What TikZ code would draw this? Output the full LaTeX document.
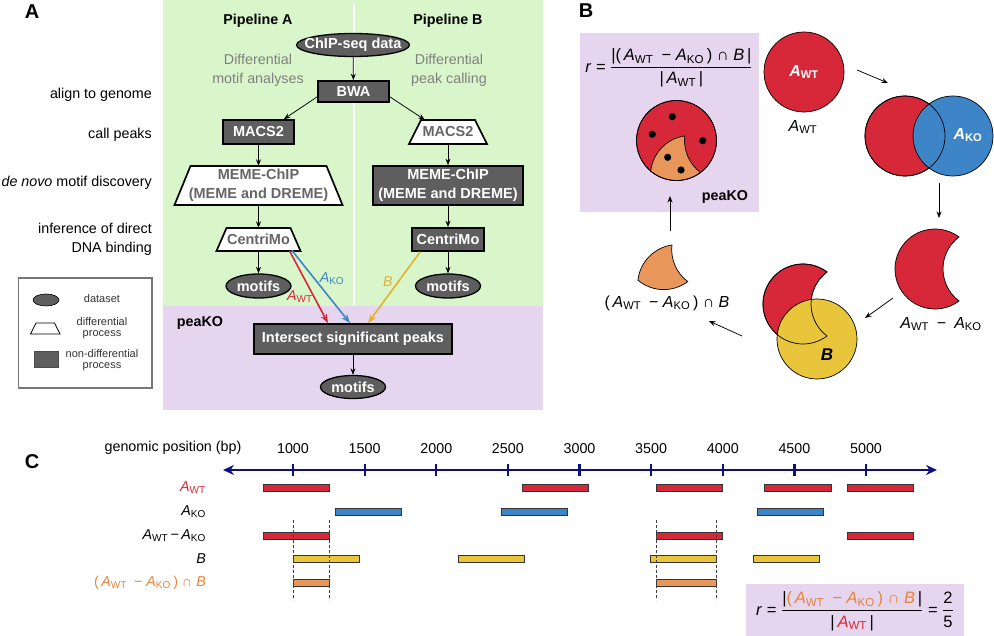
\documentclass[tikz,border=0pt]{standalone}
\usepackage{amsmath}
\usepackage{fontspec}
\setmainfont{Liberation Sans}
\usetikzlibrary{arrows.meta,shapes.geometric}
\definecolor{gbg}{HTML}{D8F6C9}
\definecolor{pbg}{HTML}{E5D5EE}
\definecolor{dbox}{HTML}{5E5E5E}
\definecolor{dtext}{HTML}{666666}
\definecolor{gtext}{HTML}{808080}
\definecolor{cred}{HTML}{D62839}
\definecolor{cblue}{HTML}{3D85C6}
\definecolor{cyel}{HTML}{E8C53A}
\definecolor{cgold}{HTML}{E2B22E}
\definecolor{corg}{HTML}{E8965A}
\definecolor{otext}{HTML}{E8833A}
\definecolor{navy}{HTML}{0F0F80}
\definecolor{lgray}{HTML}{777777}
\newcommand{\fs}[2]{\fontsize{#1}{#2}\selectfont}
\newcommand{\AWT}{\textit{A}\textsubscript{WT}}
\newcommand{\AKO}{\textit{A}\textsubscript{KO}}
\newcommand{\mns}{\enspace−\;}
% crescent A_WT - A_KO, WT centre (#1,#2), radius 40
\newcommand{\crescent}[3]{\path[#3] (#1+24,#2-32) arc[start angle=53.13,end angle=306.87,radius=40pt] arc[start angle=233.13,end angle=126.87,radius=40pt] -- cycle;}
% piece (A_WT - A_KO) cap B, WT centre (#1,#2)
\newcommand{\opiece}[3]{\path[#3] (#1-25.76,#2+30.60) arc[start angle=173.69,end angle=98.24,radius=40pt] arc[start angle=173.41,end angle=233.13,radius=40pt] arc[start angle=-53.13,end angle=-130.09,radius=40pt] -- cycle;}
% differential (trapezoid) node: name, cx, cy, half top, half bottom, half height, text
\newcommand{\diffnode}[7]{%
  \path[diffshape] (#2-#4,#3-#6) -- (#2+#4,#3-#6) -- (#2+#5,#3+#6) -- (#2-#5,#3+#6) -- cycle;
  \node[difftext, minimum width={2*#5pt}, minimum height={2*#6pt}] (#1) at (#2,#3) {#7};}
\newcommand{\cbar}[4]{%
  \fill[black!25] (#1+1,#3-2.3) rectangle (#2+1,#3+4.3);
  \path[fill=#4, draw=black!80, line width=0.6pt] (#1,#3-3.4) rectangle (#2,#3+3.4);}
\begin{document}
\begin{tikzpicture}[x=1pt,y=-1pt,
  txt/.style={font=\fs{14.3}{17}, inner sep=0pt},
  plabel/.style={font=\bfseries\fs{20}{22}, inner sep=0pt},
  dataset/.style={ellipse, draw=black, line width=1.3pt, fill=dbox, text=white, font=\bfseries\fs{14.5}{17}, inner xsep=-12pt, inner ysep=-4pt},
  ndbox/.style={rectangle, draw=black, line width=1.7pt, fill=dbox, text=white, font=\bfseries\fs{14.5}{19}, inner sep=0pt, align=center},
  difftext/.style={rectangle, text=dtext, font=\bfseries\fs{14.5}{19}, inner sep=0pt, align=center},
  diffshape/.style={draw=black, line width=1.7pt, fill=white},
  arr/.style={-{Stealth[length=6.5pt,width=5pt]}, line width=0.75pt},
  carr/.style={-{Stealth[length=9pt,width=6.5pt]}, line width=1.6pt},
  lgtext/.style={font=\fs{11}{11}, text=black!80, inner sep=0pt, align=center},
  btxt/.style={font=\fs{16}{18}, inner sep=0pt},
  venn/.style={draw=black, line width=0.7pt}
]
\useasboundingbox (0,0) rectangle (994,636);

% ================= Panel A =================
\fill[gbg] (163,0) rectangle (543,306);
\fill[pbg] (163,306) rectangle (543,410);
\draw[white, line width=2.8pt] (354,4) -- (354,306);
\node[plabel] (labA) at (32,12) {A};
\node[txt, font=\bfseries\fs{14.3}{17}] (pa) at (258,21) {Pipeline A};
\node[txt, font=\bfseries\fs{14.3}{17}] (pb) at (448,21) {Pipeline B};
\node[txt, text=gtext, align=center, font=\fs{14.3}{19}] (dma) at (258,70) {Differential\\motif analyses};
\node[txt, text=gtext, align=center, font=\fs{14.3}{19}] (dpc) at (449,70) {Differential\\peak calling};

\node[txt, anchor=east] (s1) at (152,95) {align to genome};
\node[txt, anchor=east] (s2) at (152,135) {call peaks};
\node[txt, anchor=east] (s3) at (152,183) {\textit{de novo} motif discovery};
\node[txt, anchor=east, align=right, font=\fs{14.3}{19}] (s4) at (152,239) {inference of direct\\DNA binding};

\node[dataset, minimum width=113pt, minimum height=23pt] (chip) at (353,45) {ChIP-seq data};
\node[ndbox, minimum width=71pt, minimum height=21pt] (bwa) at (353.5,91.5) {BWA};
\node[ndbox, minimum width=71pt, minimum height=24pt] (macsA) at (258.5,132) {MACS2};
\diffnode{macsB}{448}{132}{27}{39}{12}{MACS2}
\diffnode{memeA}{258.5}{185.5}{68}{84}{19.5}{MEME-ChIP\\(MEME and DREME)}
\node[ndbox, minimum width=150pt, minimum height=39pt] (memeB) at (448,185.5) {MEME-ChIP\\(MEME and DREME)};
\diffnode{centA}{258.5}{239.5}{32}{42}{11.5}{CentriMo}
\node[ndbox, minimum width=72pt, minimum height=23pt] (centB) at (448,239.5) {CentriMo};
\node[dataset, minimum width=65pt, minimum height=24pt] (motA) at (258.5,286) {motifs};
\node[dataset, minimum width=65pt, minimum height=24pt] (motB) at (448,286) {motifs};
\node[ndbox, minimum width=198pt, minimum height=30pt] (inter) at (353,339) {Intersect significant peaks};
\node[dataset, minimum width=65pt, minimum height=23pt] (motC) at (353,387) {motifs};
\node[txt, font=\bfseries\fs{14.3}{17}] (pk) at (200,323) {peaKO};

\draw[arr] (chip) -- (bwa);
\draw[arr] ([yshift=6pt]bwa.south west) -- ([xshift=-11pt]macsA.north east);
\draw[arr] ([yshift=6pt]bwa.south east) -- ([xshift=16pt]macsB.north west);
\draw[arr] (macsA) -- (memeA);
\draw[arr] (macsB) -- (memeB);
\draw[arr] (memeA) -- (centA);
\draw[arr] (memeB) -- (centB);
\draw[arr] (centA) -- (motA);
\draw[arr] (centB) -- (motB);
\draw[arr] (inter) -- (motC);

\draw[carr, cred] ([xshift=-11pt]centA.south east) -- ([xshift=-25pt]inter.north);
\draw[carr, cblue] ([xshift=-9pt,yshift=1pt]centA.south east) -- ([xshift=-3pt]inter.north);
\draw[carr, cgold] ([xshift=9pt]centB.south west) -- ([xshift=15pt]inter.north);
\node[txt, text=cblue] (lko) at (332,279) {\AKO};
\node[txt, text=cred] (lwt) at (300,297) {\AWT};
\node[txt, text=cgold] (lb) at (388,282) {\textit{B}};

% legend
\draw[lgray, line width=1.6pt] (18.5,278) rectangle (152,388);
\node[ellipse, fill=dbox, draw=black, line width=0.6pt, minimum width=26pt, minimum height=12pt, inner sep=0pt] (legE) at (46,300) {};
\node[lgtext] (legEt) at (102,299) {dataset};
\path[draw=black, line width=0.7pt, fill=white] (36,323) -- (54.5,323) -- (60,334) -- (30.5,334) -- cycle;
\node[lgtext] (legTt) at (102,328) {differential\\process};
\path[fill=dbox, draw=black!70, line width=0.6pt] (34,351) rectangle (58,367);
\node[lgtext] (legRt) at (102,360) {non-differential\\process};

% ================= Panel B =================
\node[plabel] (labB) at (586,11) {B};
\fill[pbg] (580,33) rectangle (759,212);
\node[btxt, font=\fs{16.5}{19}] (formB) at (669,68) {$\text{\textit{r} = }\dfrac{\text{|(\,\AWT\mns\AKO\,) ∩ \textit{B}\,|}}{\text{|\,\AWT\,|}}$};
\node[txt, font=\bfseries\fs{14.3}{17}] (pk2) at (725,197) {peaKO};
% small circle
\fill[cred, venn] (676.5,140.5) circle (40pt);
\opiece{676.5}{140.5}{fill=corg, venn}
\draw[venn] (676.5,140.5) circle (40pt);
\foreach \dx/\dy in {672.3/116.7, 652.3/134.3, 702.7/140.7, 667.7/157.3, 681/170}
  \fill[black] (\dx,\dy) circle (3.6pt);

% step 1
\fill[cred, venn] (804,72) circle (40pt);
\node[txt, text=white, font=\bfseries\fs{16}{18}] (w1) at (804,72) {\AWT};
\node[btxt] (w1l) at (803,127) {\AWT};
\draw[arr] (857,70) -- (888,83);
% step 2
\fill[cred, venn] (905,136) circle (40pt);
\fill[cblue, venn] (953,136) circle (40pt);
\draw[venn] (905,136) circle (40pt);
\node[txt, text=white, font=\bfseries\fs{16}{18}] (k2) at (968,135) {\AKO};
\draw[arr] (939,183) -- (939,218);
% step 3
\crescent{935}{269}{fill=cred, venn}
\node[btxt] (c3l) at (941,324) {\AWT\enspace−\enspace\AKO};
\draw[arr] (893,298) -- (865,318);
% step 4
\crescent{803}{304}{fill=cred, venn}
\fill[cyel, venn] (817,339) circle (40pt);
\crescent{803}{304}{venn}
\node[txt, font=\bfseries\fs{17}{19}] (b4) at (827,355) {\textit{B}};
\draw[arr] (742,336) -- (709,321);
% step 5
\opiece{663.7}{249.6}{fill=corg, venn}
\node[btxt] (o5l) at (667,303) {(\,\AWT\mns\AKO\,) ∩ \textit{B}};
\draw[arr] (670,231) -- (670,196);

% ================= Panel C =================
\node[plabel] (labC) at (32,462) {C};
\node[txt] (gp) at (173,448) {genomic position (bp)};
\draw[navy, line width=2.6pt, {Stealth[length=11pt,width=10pt]}-{Stealth[length=11pt,width=10pt]}] (223,470) -- (937,470);
\foreach \p/\x in {1000/293,1500/364.6,2000/436.3,2500/507.9,3000/579.5,3500/651.1,4000/722.8,4500/794.4,5000/866}{
  \draw[navy, line width=2.2pt] (\x,464) -- (\x,476);
  \node[txt] at (\x,449) {\p};
}
% rows
\cbar{263}{329}{488}{cred}
\cbar{522}{588}{488}{cred}
\cbar{656}{722}{488}{cred}
\cbar{764}{831}{488}{cred}
\cbar{847}{913}{488}{cred}
\cbar{335}{401}{512}{cblue}
\cbar{501}{567}{512}{cblue}
\cbar{757}{823}{512}{cblue}
\cbar{263}{329}{536}{cred}
\cbar{656}{722}{536}{cred}
\cbar{847}{913}{536}{cred}
\cbar{293}{359}{559}{cyel}
\cbar{458}{524}{559}{cyel}
\cbar{650}{716}{559}{cyel}
\cbar{753}{819}{559}{cyel}
\cbar{293}{329}{583}{corg}
\cbar{656}{716}{583}{corg}
\foreach \x in {293,329,656,716}
  \draw[black!75, line width=0.7pt, dash pattern=on 3pt off 2pt] (\x,520) -- (\x,600);
\node[txt, anchor=east, text=cred] (r1) at (206,488) {\AWT};
\node[txt, anchor=east] (r2) at (206,512) {\AKO};
\node[txt, anchor=east] (r3) at (206,536) {\AWT\,−\,\AKO};
\node[txt, anchor=east] (r4) at (206,559) {\textit{B}};
\node[txt, anchor=east, text=otext] (r5) at (206,583) {(\,\AWT\mns\AKO\,) ∩ \textit{B}};
\fill[pbg] (746,584) rectangle (964,636);
\node[btxt, font=\fs{16.5}{19}] (formC) at (855,611) {$\text{\textit{r} = }\dfrac{\text{|\textcolor{otext}{(\,\AWT\mns\AKO\,) ∩ \textit{B}}\,|}}{\text{|\,\textcolor{cred}{\AWT}\,|}}\text{ = }\dfrac{\text{2}}{\text{5}}$};
\end{tikzpicture}
\end{document}
